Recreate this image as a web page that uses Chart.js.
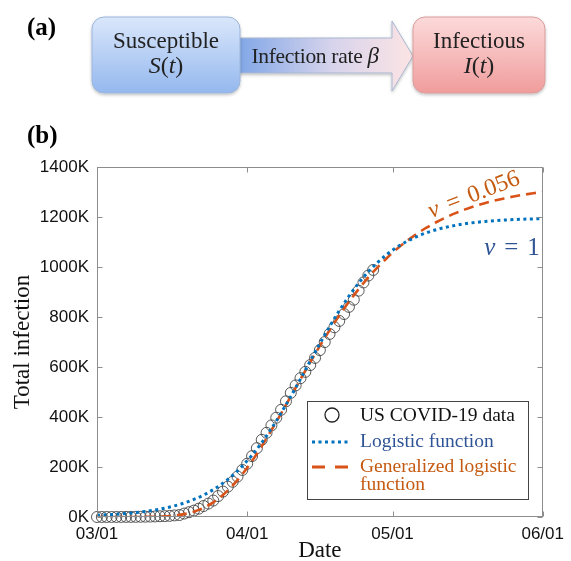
<!DOCTYPE html>
<html>
<head>
<meta charset="utf-8">
<script src="https://cdn.jsdelivr.net/npm/chart.js@4.4.1/dist/chart.umd.min.js"></script>
<style>
  html, body { margin: 0; padding: 0; background: #fff; }
  #wrap { position: relative; width: 571px; height: 561px; overflow: hidden; }
  #chart { position: absolute; left: 0; top: 0; }
  #diagram { position: absolute; left: 0; top: 0; }
</style>
</head>
<body>
<div id="wrap">
  <canvas id="chart" width="571" height="561"></canvas>
  <svg id="diagram" width="571" height="152" xmlns="http://www.w3.org/2000/svg">
    <defs>
      <linearGradient id="gBlue" x1="0" y1="0" x2="0" y2="1">
        <stop offset="0" stop-color="#dae7fb"/>
        <stop offset="1" stop-color="#94b8ee"/>
      </linearGradient>
      <linearGradient id="gRed" x1="0" y1="0" x2="0" y2="1">
        <stop offset="0" stop-color="#fcdada"/>
        <stop offset="1" stop-color="#f09c9c"/>
      </linearGradient>
      <linearGradient id="gArrow" x1="0" y1="0" x2="1" y2="0">
        <stop offset="0" stop-color="#7fa6e7"/>
        <stop offset="0.55" stop-color="#d8d4ec"/>
        <stop offset="1" stop-color="#fce4e4"/>
      </linearGradient>
      <filter id="shadow" x="-10%" y="-10%" width="120%" height="130%">
        <feDropShadow dx="0" dy="1.5" stdDeviation="1.5" flood-color="#000" flood-opacity="0.25"/>
      </filter>
    </defs>
    <text x="27" y="35" font-family="Liberation Serif" font-weight="bold" font-size="25">(a)</text>
    <text x="27" y="143" font-family="Liberation Serif" font-weight="bold" font-size="25">(b)</text>

    <polygon points="236,38 392,38 392,21 413,56 392,91 392,73 236,73"
             fill="url(#gArrow)" stroke="#a9b7cf" stroke-width="1" filter="url(#shadow)"/>
    <rect x="92" y="17" width="148" height="76" rx="12" ry="12"
          fill="url(#gBlue)" stroke="#9cb4da" stroke-width="1" filter="url(#shadow)"/>
    <rect x="413" y="17" width="132" height="76" rx="12" ry="12"
          fill="url(#gRed)" stroke="#d99c9c" stroke-width="1" filter="url(#shadow)"/>

    <text x="166" y="48" text-anchor="middle" font-family="Liberation Serif" font-size="23" fill="#222">Susceptible</text>
    <text x="166" y="73" text-anchor="middle" font-family="Liberation Serif" font-size="24" fill="#222"><tspan font-style="italic">S</tspan>(<tspan font-style="italic">t</tspan>)</text>

    <text x="315" y="63" text-anchor="middle" font-family="Liberation Serif" font-size="21.5" letter-spacing="-0.3" fill="#222">Infection rate <tspan font-style="italic" font-size="23">β</tspan></text>

    <text x="479" y="48" text-anchor="middle" font-family="Liberation Serif" font-size="23" fill="#222">Infectious</text>
    <text x="479" y="73" text-anchor="middle" font-family="Liberation Serif" font-size="24" fill="#222"><tspan font-style="italic">I</tspan>(<tspan font-style="italic">t</tspan>)</text>
  </svg>
</div>

<script>
// Cumulative US cases (thousands), one value per day starting 03/01
const caseStartLabel = '03/01';
const usCasesK = [
  0.07, 0.1, 0.12, 0.16, 0.22, 0.3, 0.4, 0.5, 0.6, 0.9,
  1.2, 1.6, 2.2, 2.9, 3.5, 4.6, 6.4, 7.8, 13.7, 19.3,
  25.6, 33.3, 43.8, 53.7, 65.8, 83.8, 101.7, 121.5, 140.9, 161.8,
  188.2, 213.2, 243.6, 275.4, 308.7, 336.8, 366.3, 397.1, 428.7, 462.8,
  496.5, 526.4, 555.3, 580.6, 607.7, 636.4, 667.6, 699.7, 732.2, 758.8,
  784.3, 811.9, 840.4, 869.2, 905.4, 938.2, 965.8, 988.2
];

// Days after 03/01 at which the fitted curves are sampled
const fitDays = [
  0, 2, 4, 6, 8, 10, 12, 14, 16, 18, 20, 22, 24, 26, 28, 30,
  32, 34, 36, 38, 40, 42, 44, 46, 48, 50, 52, 54, 56, 58, 60, 62,
  64, 66, 68, 70, 72, 74, 76, 78, 80, 82, 84, 86, 88, 90, 92
];

// Logistic fit (thousands)
const logisticK = [
  6.9, 8.7, 11.0, 14.0, 17.7, 22.4, 28.2, 35.6, 44.7, 56.2, 70.4, 87.9, 109.4, 135.4, 166.7, 203.9,
  247.4, 297.4, 353.7, 415.7, 482.5, 552.1, 623.5, 693.9, 761.4, 825.0, 883.4, 935.2, 980.6, 1019.6, 1052.8, 1080.4,
  1103.1, 1121.7, 1136.9, 1149.2, 1158.9, 1166.8, 1173.1, 1178.1, 1182.0, 1185.2, 1187.7, 1189.7, 1191.2, 1192.5, 1193.4
];

// Generalized logistic fit, nu = 0.056 (thousands)
const generalizedK = [
  0.0, 0.0, 0.0, 0.02, 0.09, 0.32, 0.95, 2.45, 5.6, 11.5, 21.3, 36.6, 58.7, 88.3, 126.0, 171.5,
  224.4, 283.3, 347.1, 413.9, 482.5, 551.1, 618.8, 684.2, 746.8, 805.8, 860.8, 911.5, 958.3, 1000.8, 1039.2, 1073.9,
  1104.9, 1132.5, 1157.2, 1179.0, 1198.3, 1215.4, 1230.4, 1243.6, 1255.2, 1265.3, 1274.3, 1282.0, 1288.8, 1294.8, 1300.0
];

const xTickDays = [0, 31, 61, 92];
const xTickLabels = ['03/01', '04/01', '05/01', '06/01'];
const yTicksK = [0, 200, 400, 600, 800, 1000, 1200, 1400];

const seriesNames = ['US COVID-19 data', 'Logistic function', 'Generalized logistic function'];
const curveNotes = ['\u03BD = 1', '\u03BD = 0.056'];

const SERIF = '"Liberation Serif", "Times New Roman", serif';
const SANS = '"Liberation Sans", Arial, sans-serif';
const BLUE = 'rgb(0,114,189)';
const ORANGE = 'rgb(217,83,25)';

// Axes box with inward tick marks on all four sides
const frameBox = {
  id: 'frameBox',
  afterDatasetsDraw(chart) {
    const { ctx, chartArea: a, scales: { x, y } } = chart;
    const L = Math.round(a.left) + 0.5, R = Math.round(a.right) - 0.5;
    const T = Math.round(a.top) + 0.5, B = Math.round(a.bottom) - 0.5;
    ctx.save();
    ctx.strokeStyle = '#8d8d8d';
    ctx.lineWidth = 1;
    ctx.strokeRect(L, T, R - L, B - T);
    ctx.beginPath();
    y.ticks.forEach(t => {
      const py = Math.round(y.getPixelForValue(t.value)) + 0.5;
      ctx.moveTo(L, py); ctx.lineTo(L + 5, py);
      ctx.moveTo(R, py); ctx.lineTo(R - 5, py);
    });
    x.ticks.forEach(t => {
      const px = Math.round(x.getPixelForValue(t.value)) + 0.5;
      ctx.moveTo(px, B); ctx.lineTo(px, B - 5);
      ctx.moveTo(px, T); ctx.lineTo(px, T + 5);
    });
    ctx.stroke();
    ctx.restore();
  }
};

// Draws a sequence of text pieces with explicit gaps
function drawPieces(ctx, pieces, gap) {
  let w = 0;
  pieces.forEach((p, i) => { ctx.font = p.font; w += ctx.measureText(p.text).width + (i ? gap : 0); });
  let cx = -w / 2;
  pieces.forEach((p, i) => {
    ctx.font = p.font;
    if (i) cx += gap;
    ctx.fillText(p.text, cx, 0);
    cx += ctx.measureText(p.text).width;
  });
}

function noteParts(str, size) {
  const [nu, eq, val] = str.split(' ');
  return [
    { text: nu, font: `italic ${size}px ${SERIF}` },
    { text: eq, font: `${size}px ${SERIF}` },
    { text: val, font: `${size}px ${SERIF}` }
  ];
}

// Parameter notes beside the fitted curves
const curveNotesPlugin = {
  id: 'curveNotes',
  afterDraw(chart) {
    const ctx = chart.ctx;
    ctx.save();
    ctx.textBaseline = 'middle';
    ctx.textAlign = 'left';
    ctx.fillStyle = '#2f5496';
    ctx.translate(512, 248);
    drawPieces(ctx, noteParts(curveNotes[0], 25), 9);
    ctx.restore();

    ctx.save();
    ctx.textBaseline = 'middle';
    ctx.textAlign = 'left';
    ctx.fillStyle = '#c55a11';
    ctx.translate(474, 195);
    ctx.rotate(-21 * Math.PI / 180);
    drawPieces(ctx, noteParts(curveNotes[1], 24), 9);
    ctx.restore();
  }
};

// Boxed legend inside the plot area
const boxLegend = {
  id: 'boxLegend',
  afterDraw(chart) {
    const ctx = chart.ctx;
    const bx = 307, by = 401, bw = 221, bh = 98;
    ctx.save();
    ctx.fillStyle = '#fff';
    ctx.fillRect(bx, by, bw, bh);
    ctx.strokeStyle = '#444';
    ctx.lineWidth = 1;
    ctx.strokeRect(bx + 0.5, by + 0.5, bw, bh);

    const tx = 360;
    ctx.textBaseline = 'middle';
    ctx.textAlign = 'left';
    ctx.font = `19.5px ${SERIF}`;

    // data marker
    ctx.beginPath();
    ctx.arc(332, 415, 7, 0, Math.PI * 2);
    ctx.strokeStyle = '#222';
    ctx.lineWidth = 1.3;
    ctx.stroke();
    ctx.fillStyle = '#111';
    ctx.fillText(seriesNames[0], tx, 416);

    // logistic sample
    ctx.beginPath();
    ctx.setLineDash([3, 3.5]);
    ctx.lineWidth = 3;
    ctx.strokeStyle = BLUE;
    ctx.moveTo(312, 442); ctx.lineTo(349, 442);
    ctx.stroke();
    ctx.fillStyle = '#2f5496';
    ctx.fillText(seriesNames[1], tx, 442);

    // generalized logistic sample
    ctx.beginPath();
    ctx.setLineDash([13, 10]);
    ctx.lineWidth = 3;
    ctx.strokeStyle = ORANGE;
    ctx.moveTo(312, 467); ctx.lineTo(349, 467);
    ctx.stroke();
    ctx.setLineDash([]);
    const words = seriesNames[2].split(' ');
    ctx.fillStyle = '#c55a11';
    ctx.fillText(words.slice(0, -1).join(' '), tx, 467);
    ctx.fillText(words[words.length - 1], tx, 485);
    ctx.restore();
  }
};

const chart = new Chart(document.getElementById('chart'), {
  type: 'line',
  data: {
    datasets: [
      {
        label: seriesNames[0],
        data: usCasesK.map((v, i) => ({ x: i, y: v })),
        showLine: false,
        pointStyle: 'circle',
        pointRadius: 5.5,
        pointBorderWidth: 1,
        pointBorderColor: 'rgba(60,60,60,0.85)',
        pointBackgroundColor: 'rgba(255,255,255,0)',
        borderColor: 'rgba(60,60,60,0.85)',
        clip: false,
        order: 3
      },
      {
        label: seriesNames[1],
        data: fitDays.map((d, i) => ({ x: d, y: logisticK[i] })),
        borderColor: BLUE,
        borderWidth: 3,
        borderDash: [3, 3.5],
        borderCapStyle: 'butt',
        pointRadius: 0,
        cubicInterpolationMode: 'monotone',
        fill: false,
        order: 1
      },
      {
        label: seriesNames[2],
        data: fitDays.map((d, i) => ({ x: d, y: generalizedK[i] })),
        borderColor: ORANGE,
        borderWidth: 2.6,
        borderDash: [10, 6],
        borderCapStyle: 'butt',
        pointRadius: 0,
        cubicInterpolationMode: 'monotone',
        fill: false,
        order: 2
      }
    ]
  },
  options: {
    responsive: false,
    animation: false,
    devicePixelRatio: 1,
    layout: { padding: { top: 167, right: 25, left: 0, bottom: 0 } },
    plugins: { legend: { display: false }, tooltip: { enabled: false } },
    scales: {
      x: {
        type: 'linear',
        min: xTickDays[0],
        max: xTickDays[xTickDays.length - 1],
        afterBuildTicks: s => { s.ticks = xTickDays.map(v => ({ value: v })); },
        afterFit: s => { s.height = 44; },
        grid: { display: false, drawTicks: false },
        border: { display: false },
        ticks: {
          autoSkip: false,
          maxRotation: 0,
          padding: 7,
          color: '#111',
          font: { family: SANS, size: 17 },
          callback: v => xTickLabels[xTickDays.indexOf(v)]
        },
        title: {
          display: true,
          text: 'Date',
          color: '#111',
          font: { family: SERIF, size: 23, lineHeight: 1 },
          padding: { top: 0, bottom: -1 }
        }
      },
      y: {
        min: yTicksK[0],
        max: yTicksK[yTicksK.length - 1],
        afterBuildTicks: s => { s.ticks = yTicksK.map(v => ({ value: v })); },
        afterFit: s => { s.width = 97; },
        grid: { display: false, drawTicks: false },
        border: { display: false },
        ticks: {
          padding: 8,
          color: '#111',
          font: { family: SANS, size: 17 },
          callback: v => v + 'K'
        },
        title: {
          display: true,
          text: 'Total infection',
          color: '#111',
          font: { family: SERIF, size: 23, lineHeight: 1.2 },
          padding: { top: 9, bottom: 0 }
        }
      }
    }
  },
  plugins: [frameBox, boxLegend, curveNotesPlugin]
});
</script>
</body>
</html>
